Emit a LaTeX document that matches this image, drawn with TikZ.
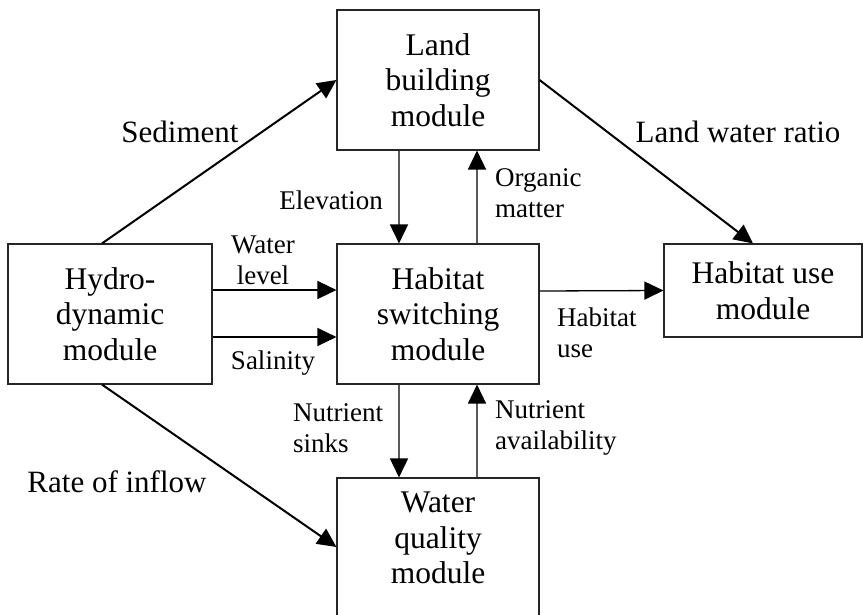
\documentclass[tikz,border=0pt]{standalone}
\usepackage{fontspec}
\setmainfont{Liberation Serif}
\usetikzlibrary{arrows.meta,calc}
\tikzset{
  modbox/.style={draw=black!85, line width=1.1pt, minimum width=202pt, align=center, inner sep=0pt,
    font=\fontsize{31.5}{35.5}\selectfont},
  biglab/.style={inner sep=0pt, font=\fontsize{31}{35}\selectfont},
  smalllab/.style={inner sep=0pt, align=left, font=\fontsize{27}{31}\selectfont},
  tip/.style={-{Triangle[length=19pt,width=18pt,color=black]}},
  diagarrow/.style={tip, line width=2pt, draw=black},
  horarrow/.style={tip, line width=1.3pt, draw=black},
  vertarrow/.style={tip, line width=1.6pt, draw=black!65},
}
\begin{document}
\begin{tikzpicture}[x=1pt,y=-1pt]
\clip (0,0) rectangle (863,614);
\fill[white] (0,0) rectangle (863,614);
% boxes
\node[modbox, minimum height=140pt] (land) at (438,80) {Land\\building\\module};
\node[modbox, minimum width=204pt, minimum height=140pt] (hydro) at (110,314) {Hydro-\\dynamic\\module};
\node[modbox, minimum height=140pt] (hab) at (438,314) {Habitat\\switching\\module};
\node[modbox, minimum width=198pt, minimum height=93pt] (use) at (763,290.5) {Habitat use\\module};
\node[modbox, minimum height=162pt, text depth=0pt] (wq) at (438,559) {};
\node[align=center, inner sep=0pt, font=\fontsize{31.5}{35.5}\selectfont] (wqtext) at (438,538) {Water\\quality\\module};
% connectors
\draw[diagarrow] ([xshift=-8pt]hydro.north) -- (land.west);
\draw[diagarrow] ([xshift=-8pt]hydro.south) -- ([yshift=12pt]wq.west);
\draw[diagarrow] (land.east) -- ([xshift=-10pt]use.north);
\draw[vertarrow] ([xshift=-39pt]land.south) -- ([xshift=-39pt]hab.north);
\draw[vertarrow] ([xshift=39pt]hab.north) -- ([xshift=39pt]land.south);
\draw[horarrow] ([yshift=24pt]hydro.east) -- ([yshift=24pt]hab.west);
\draw[horarrow] ([yshift=-23pt]hydro.east) -- ([yshift=-23pt]hab.west);
\draw[horarrow] ([yshift=23pt]hab.east) -- (use.west);
\draw[vertarrow] ([xshift=-39pt]hab.south) -- ([xshift=-39pt]wq.north);
\draw[vertarrow] ([xshift=39pt]wq.north) -- ([xshift=39pt]hab.south);
% labels
\node[biglab] (lsed) at (180,132) {Sediment};
\node[biglab] (llwr) at (738,132) {Land water ratio};
\node[biglab] (lrate) at (117,482) {Rate of inflow};
\node[smalllab, anchor=east] (lelev) at (383,200) {Elevation};
\node[smalllab, anchor=west] (lorg) at (495,193) {Organic\\matter};
\node[smalllab, align=center] (lwl) at (263,260) {Water\\level};
\node[smalllab] (lsal) at (273,363) {Salinity};
\node[smalllab, anchor=west] (lhu) at (557,333) {Habitat\\use};
\node[smalllab, anchor=west] (lns) at (293,428) {Nutrient\\sinks};
\node[smalllab, anchor=west] (lna) at (495,428) {Nutrient\\availability};
\end{tikzpicture}
\end{document}
